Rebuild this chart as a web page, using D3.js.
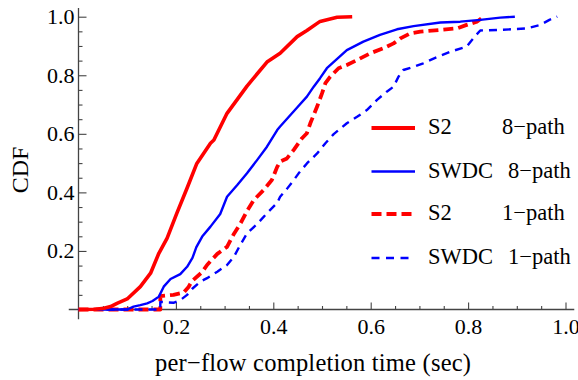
<!DOCTYPE html>
<html>
<head>
<meta charset="utf-8">
<script src="https://cdn.jsdelivr.net/npm/d3@7"></script>
<style>
  html, body { margin: 0; padding: 0; background: #fff; }
  svg { display: block; }
  text { font-family: "Liberation Serif", "Times New Roman", serif; fill: #000; }
</style>
</head>
<body>
<svg id="chart" width="578" height="380"></svg>
<script>
// ---------- data ----------
const seriesNames = ["S2", "SWDC", "S2", "SWDC"];
const seriesPaths = ["8\u2212path", "8\u2212path", "1\u2212path", "1\u2212path"];

const s2_8path = [
  [0,0],[0.035,0.001],[0.052,0.004],[0.066,0.010],[0.079,0.021],[0.100,0.036],
  [0.127,0.078],[0.148,0.124],[0.165,0.192],[0.182,0.244],[0.202,0.329],[0.223,0.415],
  [0.243,0.499],[0.271,0.568],[0.278,0.579],[0.305,0.670],[0.346,0.763],[0.387,0.845],
  [0.414,0.875],[0.449,0.932],[0.469,0.953],[0.496,0.984],[0.531,0.998],[0.562,1.0]
];
const swdc_8path = [
  [0,0],[0.100,0],[0.113,0.010],[0.127,0.015],[0.141,0.021],[0.152,0.029],[0.165,0.044],
  [0.175,0.078],[0.189,0.104],[0.209,0.121],[0.223,0.146],[0.234,0.176],[0.242,0.213],
  [0.254,0.249],[0.271,0.283],[0.291,0.326],[0.305,0.385],[0.326,0.425],[0.346,0.465],
  [0.367,0.511],[0.387,0.556],[0.408,0.613],[0.414,0.625],[0.449,0.690],[0.469,0.727],
  [0.483,0.761],[0.496,0.790],[0.510,0.824],[0.551,0.886],[0.585,0.915],[0.619,0.938],
  [0.654,0.957],[0.688,0.968],[0.743,0.980],[0.784,0.983],[0.825,0.989],[0.866,0.997],
  [0.896,1.0]
];
const s2_1path = [
  [0,0],[0.168,0],[0.168,0.046],[0.195,0.050],[0.216,0.058],[0.226,0.077],[0.233,0.097],
  [0.254,0.128],[0.264,0.152],[0.285,0.190],[0.305,0.214],[0.319,0.258],[0.332,0.292],
  [0.346,0.336],[0.360,0.374],[0.380,0.408],[0.397,0.442],[0.408,0.487],[0.414,0.505],
  [0.428,0.516],[0.442,0.545],[0.459,0.585],[0.469,0.602],[0.476,0.636],[0.490,0.693],
  [0.500,0.738],[0.507,0.773],[0.517,0.795],[0.534,0.824],[0.551,0.835],[0.572,0.852],
  [0.599,0.875],[0.626,0.892],[0.647,0.909],[0.661,0.926],[0.681,0.943],[0.702,0.949],
  [0.743,0.955],[0.777,0.960],[0.797,0.972],[0.818,0.983],[0.828,0.995],[0.835,1.0]
];
const swdc_1path = [
  [0,0],[0.168,0],[0.168,0.026],[0.195,0.023],[0.209,0.032],[0.223,0.050],[0.233,0.070],
  [0.250,0.095],[0.264,0.107],[0.285,0.129],[0.305,0.152],[0.319,0.180],[0.332,0.220],
  [0.346,0.260],[0.367,0.292],[0.387,0.329],[0.408,0.364],[0.414,0.385],[0.428,0.412],
  [0.442,0.442],[0.452,0.465],[0.469,0.499],[0.490,0.533],[0.507,0.568],[0.524,0.599],
  [0.551,0.636],[0.572,0.658],[0.592,0.681],[0.613,0.716],[0.633,0.744],[0.647,0.761],
  [0.657,0.795],[0.667,0.818],[0.688,0.829],[0.708,0.841],[0.729,0.857],[0.763,0.880],
  [0.797,0.898],[0.811,0.927],[0.825,0.953],[0.866,0.955],[0.920,0.960],[0.948,0.972],
  [0.967,0.989],[0.983,1.0]
];

const xMajorTicks = [0.2, 0.4, 0.6, 0.8, 1.0];
const yMajorTicks = [0.2, 0.4, 0.6, 0.8, 1.0];
const tickLabelsX = ["0.2", "0.4", "0.6", "0.8", "1.0"];
const tickLabelsY = ["0.2", "0.4", "0.6", "0.8", "1.0"];
const minorTicks = [0.05,0.1,0.15,0.25,0.3,0.35,0.45,0.5,0.55,0.65,0.7,0.75,0.85,0.9,0.95];
const xLabel = "per\u2212flow completion time (sec)";
const yLabel = "CDF";

// ---------- layout ----------
const svg = d3.select("#chart");
const x = d3.scaleLinear().domain([0, 1]).range([78.5, 565.5]);
const y = d3.scaleLinear().domain([0, 1]).range([309.5, 16.7]);
const axisColor = "#444";

// axis lines (with plot-range padding)
svg.append("line")
  .attr("x1", x(-0.02)).attr("x2", x(1.018))
  .attr("y1", y(0)).attr("y2", y(0))
  .attr("stroke", axisColor).attr("stroke-width", 1.3);
svg.append("line")
  .attr("x1", x(0)).attr("x2", x(0))
  .attr("y1", y(-0.033)).attr("y2", y(1.03))
  .attr("stroke", axisColor).attr("stroke-width", 1.3);

function styleAxis(g) {
  g.select(".domain").remove();
  g.selectAll(".tick line").attr("stroke", axisColor).attr("stroke-width", 1.1);
  g.selectAll(".tick text").style("font-family", "Liberation Serif").style("font-size", "22px").attr("fill", "#000");
}

// x axis: major & minor ticks point up
svg.append("g").attr("transform", `translate(0,${y(0)})`)
  .call(d3.axisBottom(x).tickValues(minorTicks).tickSize(-3.5).tickFormat(""))
  .call(styleAxis);
svg.append("g").attr("transform", `translate(0,${y(0)})`)
  .call(d3.axisBottom(x).tickValues(xMajorTicks).tickSize(-7)
        .tickFormat((d, i) => tickLabelsX[i]).tickPadding(9))
  .call(styleAxis)
  .call(g => g.selectAll(".tick text").attr("dy", "0.71em").attr("y", 8.5));

// y axis: ticks point right
svg.append("g").attr("transform", `translate(${x(0)},0)`)
  .call(d3.axisLeft(y).tickValues(minorTicks).tickSize(-4).tickFormat(""))
  .call(styleAxis);
svg.append("g").attr("transform", `translate(${x(0)},0)`)
  .call(d3.axisLeft(y).tickValues(yMajorTicks).tickSize(-8)
        .tickFormat((d, i) => tickLabelsY[i]).tickPadding(4))
  .call(styleAxis)
  .call(g => g.selectAll(".tick text").attr("x", -4));

// ---------- curves ----------
const line = d3.line().x(d => x(d[0])).y(d => y(d[1]));
const series = [
  { data: s2_1path,   color: "#ff0000", width: 3.8, dash: "10,5" },
  { data: swdc_1path, color: "#0000ff", width: 2.4, dash: "8,6" },
  { data: swdc_8path, color: "#0000ff", width: 2.4, dash: null },
  { data: s2_8path,   color: "#ff0000", width: 3.6, dash: null }
];
series.forEach(s => {
  svg.append("path").datum(s.data)
    .attr("d", line)
    .attr("fill", "none")
    .attr("stroke", s.color)
    .attr("stroke-width", s.width)
    .attr("stroke-linejoin", "round")
    .attr("stroke-dasharray", s.dash);
});

// ---------- legend ----------
const legendItems = [
  { color: "#ff0000", width: 3.8, dash: null,  ly: 128,   nx: 428, px: 502 },
  { color: "#0000ff", width: 2.4, dash: null,  ly: 171.5, nx: 428, px: 508 },
  { color: "#ff0000", width: 3.8, dash: "10,5", ly: 214,  nx: 428, px: 502 },
  { color: "#0000ff", width: 2.4, dash: "8,6.5", ly: 258, nx: 428, px: 508 }
];
legendItems.forEach((it, i) => {
  svg.append("line")
    .attr("x1", 371.5).attr("x2", 415)
    .attr("y1", it.ly).attr("y2", it.ly)
    .attr("stroke", it.color).attr("stroke-width", it.width)
    .attr("stroke-dasharray", it.dash);
  svg.append("text").attr("x", it.nx).attr("y", it.ly + 6)
    .style("font-size", "22.5px").text(seriesNames[i]);
  svg.append("text").attr("x", it.px).attr("y", it.ly + 6)
    .style("font-size", "22.5px").text(seriesPaths[i]);
});

// ---------- axis labels ----------
svg.append("text")
  .attr("x", 155).attr("y", 371)
  .attr("textLength", 316).attr("lengthAdjust", "spacing")
  .style("font-size", "24.5px")
  .text(xLabel);
svg.append("text")
  .attr("transform", "translate(28,170) rotate(-90)")
  .attr("text-anchor", "middle")
  .style("font-size", "24px")
  .text(yLabel);
</script>
</body>
</html>
